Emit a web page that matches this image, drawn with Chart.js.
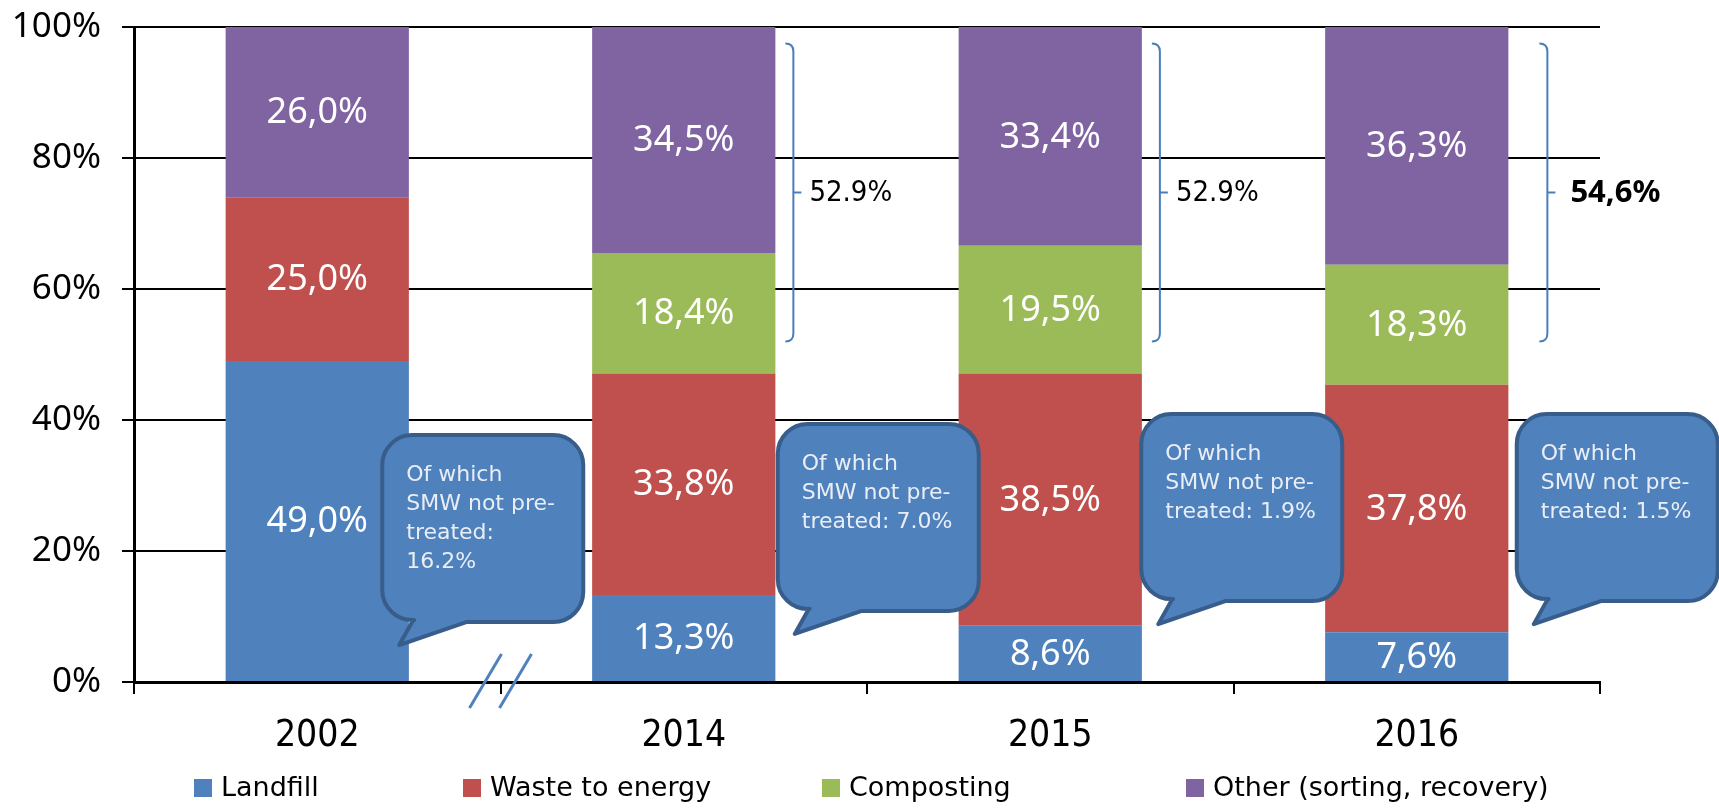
<!DOCTYPE html>
<html lang="en">
<head>
    <meta charset="UTF-8">
    <title>SMW treatment</title>
    <script src="https://cdn.jsdelivr.net/npm/chart.js"></script>
    <style>
        body {
            margin: 0;
            background: #fff;
        }
        #wasteChart {
            display: block;
        }
    </style>
</head>
<body>
<canvas id="wasteChart" width="1719" height="811"></canvas>

<script>
    const years = ['2002', '2014', '2015', '2016'];
    const landfill = [49.0, 13.3, 8.6, 7.6];
    const wasteToEnergy = [25.0, 33.8, 38.5, 37.8];
    const composting = [0, 18.4, 19.5, 18.3];
    const other = [26.0, 34.5, 33.4, 36.3];
    const yTicks = [0, 20, 40, 60, 80, 100];

    // text of the speech bubbles next to each bar
    const calloutText = [
        ['Of which', 'SMW not pre-', 'treated:', '16.2%'],
        ['Of which', 'SMW not pre-', 'treated: 7.0%'],
        ['Of which', 'SMW not pre-', 'treated: 1.9%'],
        ['Of which', 'SMW not pre-', 'treated: 1.5%']
    ];
    // composting + other, shown with a brace on the right of the bar
    const recoveryShare = [null, '52.9%', '52.9%', '54,6%'];

    const BLUE = '#4f81bd';
    const BLUE_DARK = '#385d8a';

    function pct(v) {
        return v.toFixed(1).replace('.', ',') + '%';
    }

    // white value labels in the middle of each segment
    const segmentLabels = {
        id: 'segmentLabels',
        afterDatasetsDraw(chart) {
            const ctx = chart.ctx;
            ctx.save();
            ctx.font = '36px "Noto Sans"';
            ctx.fillStyle = '#fff';
            ctx.textAlign = 'center';
            ctx.textBaseline = 'middle';
            chart.data.datasets.forEach((ds, i) => {
                chart.getDatasetMeta(i).data.forEach((bar, j) => {
                    const v = ds.data[j];
                    if (!v) return;
                    ctx.fillText(pct(v), bar.x, (bar.y + bar.base) / 2 + 1);
                });
            });
            ctx.restore();
        }
    };

    function bubblePath(ctx, x, y, w, h) {
        const r = 30;
        ctx.beginPath();
        ctx.moveTo(x + r, y);
        ctx.lineTo(x + w - r, y);
        ctx.arcTo(x + w, y, x + w, y + r, r);
        ctx.lineTo(x + w, y + h - r);
        ctx.arcTo(x + w, y + h, x + w - r, y + h, r);
        ctx.lineTo(x + 84, y + h);
        ctx.lineTo(x + 17, y + h + 23);
        ctx.lineTo(x + 31, y + h - 2);
        ctx.arcTo(x, y + h, x, y + h - r, r);
        ctx.lineTo(x, y + r);
        ctx.arcTo(x, y, x + r, y, r);
        ctx.closePath();
    }

    const annotations = {
        id: 'annotations',
        afterDraw(chart) {
            const ctx = chart.ctx;
            const xs = chart.scales.x;
            const ys = chart.scales.y;
            const bars = chart.getDatasetMeta(0).data;
            ctx.save();

            // axis break between 2002 and 2014
            const gap = (xs.getPixelForValue(0) + xs.getPixelForValue(1)) / 2;
            const base = ys.getPixelForValue(0);
            ctx.strokeStyle = BLUE;
            ctx.lineWidth = 3;
            [-15, 15].forEach(off => {
                ctx.beginPath();
                ctx.moveTo(gap + off - 16, base + 26);
                ctx.lineTo(gap + off + 16, base - 28);
                ctx.stroke();
            });

            // braces around composting + other
            const braceGap = [0, 18, 18, 39];
            const top = ys.getPixelForValue(97.5);
            const bottom = ys.getPixelForValue(52);
            const mid = (top + bottom) / 2;
            recoveryShare.forEach((label, i) => {
                if (!label) return;
                const bar = bars[i];
                const x = bar.x + bar.width / 2 + braceGap[i];
                ctx.strokeStyle = '#4a7ebb';
                ctx.lineWidth = 2;
                ctx.beginPath();
                ctx.moveTo(x - 8, top);
                ctx.quadraticCurveTo(x, top, x, top + 8);
                ctx.lineTo(x, bottom - 8);
                ctx.quadraticCurveTo(x, bottom, x - 8, bottom);
                ctx.moveTo(x, mid);
                ctx.lineTo(x + 8, mid);
                ctx.stroke();

                ctx.fillStyle = '#000';
                ctx.textBaseline = 'middle';
                ctx.textAlign = 'left';
                if (i === recoveryShare.length - 1) {
                    ctx.font = 'bold 31px "Noto Sans"';
                    ctx.fillText(label, x + 23, mid + 1);
                } else {
                    ctx.font = '29px "DejaVu Sans Condensed", "DejaVu Sans"';
                    ctx.fillText(label, x + 16, mid + 1);
                }
            });

            // speech bubbles
            const bubbleDx = [65, 94, 91, 100];
            const bubbleTop = [37.7, 39.4, 40.9, 40.9];
            calloutText.forEach((lines, i) => {
                const bx = xs.getPixelForValue(i) + bubbleDx[i];
                const by = ys.getPixelForValue(bubbleTop[i]);
                bubblePath(ctx, bx, by, 201, 187);
                ctx.fillStyle = BLUE;
                ctx.fill();
                ctx.strokeStyle = BLUE_DARK;
                ctx.lineWidth = 4;
                ctx.lineJoin = 'round';
                ctx.stroke();

                ctx.fillStyle = '#e9eef6';
                ctx.font = '22px "DejaVu Sans"';
                ctx.textAlign = 'left';
                ctx.textBaseline = 'alphabetic';
                lines.forEach((t, k) => {
                    ctx.fillText(t, bx + 24, by + 46 + k * 29);
                });
            });
            ctx.restore();
        }
    };

    // legend along the bottom edge
    const bottomLegend = {
        id: 'bottomLegend',
        afterDraw(chart) {
            const ctx = chart.ctx;
            const slots = [194, 463, 822, 1186];
            ctx.save();
            ctx.font = '27px "DejaVu Sans"';
            ctx.textBaseline = 'middle';
            ctx.textAlign = 'left';
            chart.data.datasets.forEach((ds, i) => {
                ctx.fillStyle = ds.backgroundColor;
                ctx.fillRect(slots[i], 779, 18, 18);
                ctx.fillStyle = '#000';
                ctx.fillText(ds.label, slots[i] + 27, 789);
            });
            ctx.restore();
        }
    };

    new Chart(document.getElementById('wasteChart'), {
        type: 'bar',
        data: {
            labels: years,
            datasets: [
                { label: 'Landfill', data: landfill, backgroundColor: BLUE },
                { label: 'Waste to energy', data: wasteToEnergy, backgroundColor: '#c0504d' },
                { label: 'Composting', data: composting, backgroundColor: '#9bbb59' },
                { label: 'Other (sorting, recovery)', data: other, backgroundColor: '#8064a2' }
            ]
        },
        options: {
            responsive: false,
            animation: false,
            devicePixelRatio: 1,
            layout: {
                padding: { top: 27, right: 119, bottom: 0, left: 0 }
            },
            datasets: {
                bar: {
                    categoryPercentage: 1,
                    barPercentage: 0.5,
                    borderWidth: 0
                }
            },
            plugins: {
                legend: { display: false },
                tooltip: { enabled: false }
            },
            scales: {
                x: {
                    stacked: true,
                    afterFit: scale => {
                        scale.height = 129;
                        scale.paddingLeft = 0;
                        scale.paddingRight = 0;
                    },
                    grid: {
                        drawOnChartArea: false,
                        drawTicks: true,
                        tickLength: 12,
                        color: '#000',
                        lineWidth: 2
                    },
                    border: { color: '#000', width: 3 },
                    ticks: {
                        color: '#000',
                        padding: 20,
                        font: { family: '"DejaVu Sans Condensed", "DejaVu Sans"', size: 37 }
                    }
                },
                y: {
                    stacked: true,
                    min: 0,
                    max: 100,
                    afterFit: scale => {
                        scale.width = 134;
                        scale.paddingTop = 0;
                        scale.paddingBottom = 0;
                    },
                    afterBuildTicks: scale => {
                        scale.ticks = yTicks.map(v => ({ value: v }));
                    },
                    grid: {
                        color: '#000',
                        lineWidth: 2,
                        tickLength: 12
                    },
                    border: { color: '#000', width: 3 },
                    ticks: {
                        color: '#000',
                        padding: 21,
                        font: { family: '"Noto Sans"', size: 35 },
                        callback: v => v + '%'
                    }
                }
            }
        },
        plugins: [segmentLabels, annotations, bottomLegend]
    });
</script>
</body>
</html>
